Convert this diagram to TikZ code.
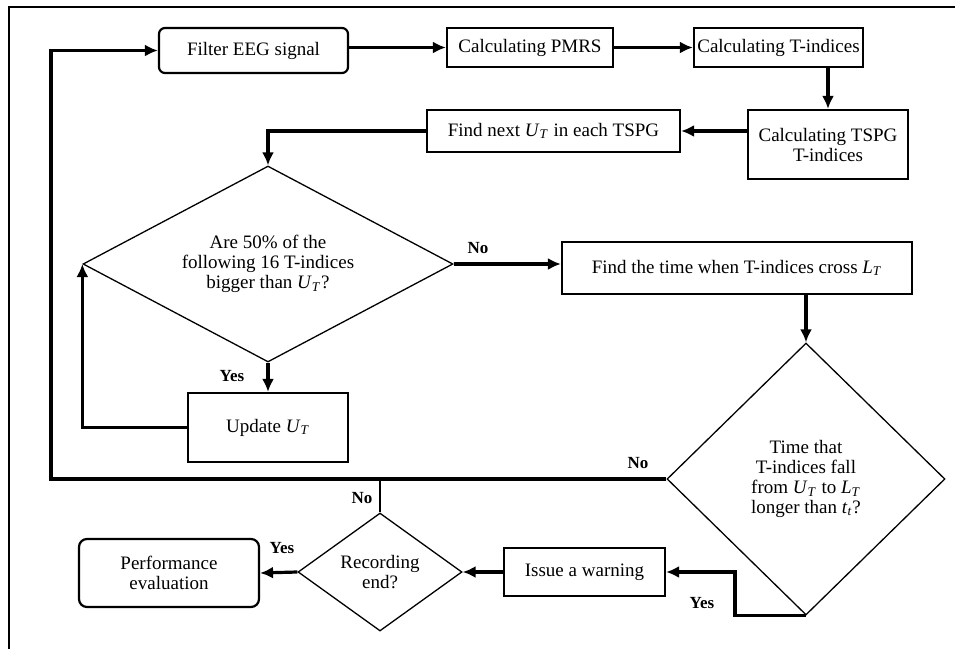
\documentclass[tikz,border=0pt]{standalone}
\usepackage{fontspec}
\setmainfont{Liberation Serif}
\usetikzlibrary{shapes.geometric,arrows.meta,positioning}

\newcommand{\thr}[2]{\textit{#1}\textsubscript{\textit{#2}}}

\tikzset{
	procbox/.style={draw, line width=1.1pt, inner sep=0pt, align=center},
	roundbox/.style={procbox, rounded corners=3pt},
	decision/.style={draw, diamond, line width=0.65pt, inner sep=0pt, align=center},
	flow/.style={line width=1.6pt, -{Latex[length=6.5pt,width=6pt]}},
	lab/.style={font=\fontsize{8.5}{10}\selectfont\bfseries}
}

\begin{document}
\begin{tikzpicture}[x=0.5pt, y=-0.5pt, font=\fontsize{9.5}{10}\selectfont]
	
	\useasboundingbox (0,0) rectangle (955,649);
	% frame
	\draw[line width=0.8pt] (9,649) -- (9,7) -- (955,7);
	
	% top row
	\node[roundbox, minimum width=94.5pt, minimum height=22.5pt] (filter) at (253.5,50.5) {Filter EEG signal};
	\node[procbox, minimum width=83pt, minimum height=19.5pt] (pmrs) at (530,47.5) {Calculating PMRS};
	\node[procbox, minimum width=84.5pt, minimum height=19.5pt] (tind) at (778.5,47.5) {Calculating T-indices};
	
	% second row
	\node[procbox, minimum width=80pt, minimum height=34.5pt] (tspg) at (828,144.5) {Calculating TSPG\\T-indices};
	\node[procbox, minimum width=126.5pt, minimum height=21pt] (next) at (553.5,131) {Find next \thr{U}{T} in each TSPG};
	
	% upper threshold test
	\node[decision, aspect=1.9, minimum width=185pt, minimum height=98pt] (dia1) at (268,264) {Are 50\% of the\\following 16 T-indices\\bigger than \thr{U}{T}?};
	\node[procbox, minimum width=80pt, minimum height=34.5pt] (update) at (268,427.5) {Update \thr{U}{T}};
	\node[procbox, minimum width=175pt, minimum height=26pt] (cross) at (737,268) {Find the time when T-indices cross \thr{L}{T}};
	
	% lower part
	\node[decision, minimum width=139pt, minimum height=136pt] (dia2) at (806,479) {Time that\\T-indices fall\\from \thr{U}{T} to \thr{L}{T}\\longer than \thr{t}{t}?};
	\node[procbox, minimum width=80.5pt, minimum height=24pt] (warn) at (584.5,572) {Issue a warning};
	\node[decision, aspect=1.4, minimum width=82pt, minimum height=59pt] (dia3) at (380,572) {Recording\\end?};
	\node[roundbox, rounded corners=4pt, minimum width=90pt, minimum height=34pt] (perf) at (169,573) {Performance\\evaluation};
	
	\coordinate (loop) at (51,480);
	\coordinate (yesturn) at (735,572);
	
	% connectors
	\draw[flow] (filter.east |- pmrs.west) -- (pmrs.west);
	\draw[flow] (pmrs.east) -- (tind.west);
	\draw[flow] (tind.south -| tspg.north) -- (tspg.north);
	\draw[flow] (tspg.west |- next.east) -- (next.east);
	\draw[flow] (next.west) -| (dia1.north);
	\draw[flow] (dia1.south) -- (update.north);
	\draw[flow] (update.west) -| (dia1.west);
	\draw[flow] (dia1.east) -- (dia1.east -| cross.west);
	\draw[flow] (cross.south -| dia2.north) -- (dia2.north);
	\draw[flow] (dia2.west) -- (dia2.west -| loop) |- (filter.west);
	\draw[flow] (dia2.south) -| (yesturn) -- (warn.east);
	\draw[flow] (warn.west) -- (dia3.east);
	\draw[flow] (dia3.west) -- (perf.east);
	\draw[line width=0.65pt] (dia3.north) -- (dia3.north |- dia2.west);
	
	% branch labels
	\node[lab] (y1) at (232,376) {Yes};
	\node[lab] (n1) at (478,248) {No};
	\node[lab] (n2) at (638,463) {No};
	\node[lab] (y2) at (702,603) {Yes};
	\node[lab] (n3) at (362,498) {No};
	\node[lab] (y3) at (282,548) {Yes};
\end{tikzpicture}
\end{document}
